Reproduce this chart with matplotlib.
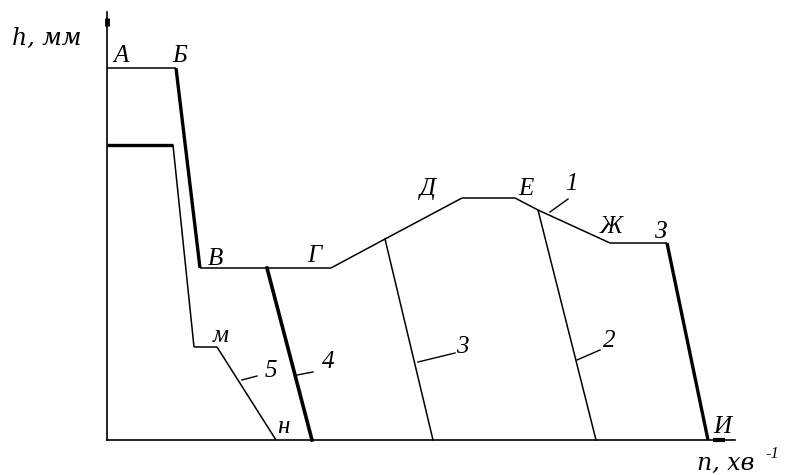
import matplotlib.pyplot as plt

# schematic curve h(n), in drawing units (1 unit ~ 1 px)
curve1_n = [0, 69, 93, 224, 278, 355, 408, 431, 503, 560, 601]
curve1_h = [372, 372, 172, 172, 201, 242, 242, 230, 197, 197, 0]
thick1 = [1, 9]  # segment indices drawn thick (Б-В, З-И)

curve5_n = [0, 66, 87, 110, 169]
curve5_h = [295, 295, 93, 93, 0]
thick5 = [0]

line4_n = [160, 205]
line4_h = [172, 0]
line3_n = [278, 326]
line3_h = [201, 0]
line2_n = [431, 489]
line2_h = [230, 0]

point_labels = ['А', 'Б', 'В', 'Г', 'Д', 'Е', 'Ж', 'З', 'И', 'м', 'н']
point_n = [6, 65, 101, 200, 313, 411, 493, 548, 606, 106, 170]
point_h = [378, 378, 175, 178, 245, 245, 207, 202, 7, 98, 7]

num_labels = ['1', '2', '3', '4', '5']
num_n = [458, 496, 349, 215, 158]
num_h = [250, 93, 87, 72, 63]
leader_n = [(443, 461), (470, 493), (311, 348), (190, 206), (135, 150)]
leader_h = [(228, 241), (80, 90), (78, 87), (65, 68), (60, 64)]

plt.rcParams['font.family'] = ['Liberation Serif', 'DejaVu Serif']
fig = plt.figure(figsize=(7.89, 4.75), dpi=100)
ax = fig.add_axes([0, 0, 1, 1])
ax.set_xlim(-107, 682)
ax.set_ylim(-35, 440)
ax.axis('off')

# axes
ax.plot([0, 0], [0, 428], color='black', lw=1.2)
ax.plot([0, 628], [0, 0], color='black', lw=1.2)
ax.plot([0, 0], [414, 422], color='black', lw=3.5, solid_capstyle='butt')
ax.plot([606, 618], [0, 0], color='black', lw=3, solid_capstyle='butt')


def draw_poly(ns, hs, thick):
    for i in range(len(ns) - 1):
        lw = 2.4 if i in thick else 1.1
        ax.plot(ns[i:i + 2], hs[i:i + 2], color='black', lw=lw,
                solid_capstyle='butt')


draw_poly(curve1_n, curve1_h, thick1)
draw_poly(curve5_n, curve5_h, thick5)
ax.plot(line4_n, line4_h, color='black', lw=2.6)
ax.plot(line3_n, line3_h, color='black', lw=1.1)
ax.plot(line2_n, line2_h, color='black', lw=1.1)

for lab, x, y in zip(point_labels, point_n, point_h):
    ax.text(x, y, lab, fontsize=18, style='italic', ha='left', va='baseline')

for lab, x, y in zip(num_labels, num_n, num_h):
    ax.text(x, y, lab, fontsize=18, style='italic', ha='left', va='baseline')
for ln, lh in zip(leader_n, leader_h):
    ax.plot(ln, lh, color='black', lw=1.0)

# axis titles
ax.text(-95, 395, 'h, мм', fontsize=17, style='italic', family='DejaVu Serif',
        ha='left', va='baseline')
ax.text(590, -30, 'n, хв', fontsize=17, style='italic', family='DejaVu Serif',
        ha='left', va='baseline')
ax.text(658, -18, '-1', fontsize=12, style='italic', ha='left',
        va='baseline')

fig.savefig('out.png', dpi=100)
